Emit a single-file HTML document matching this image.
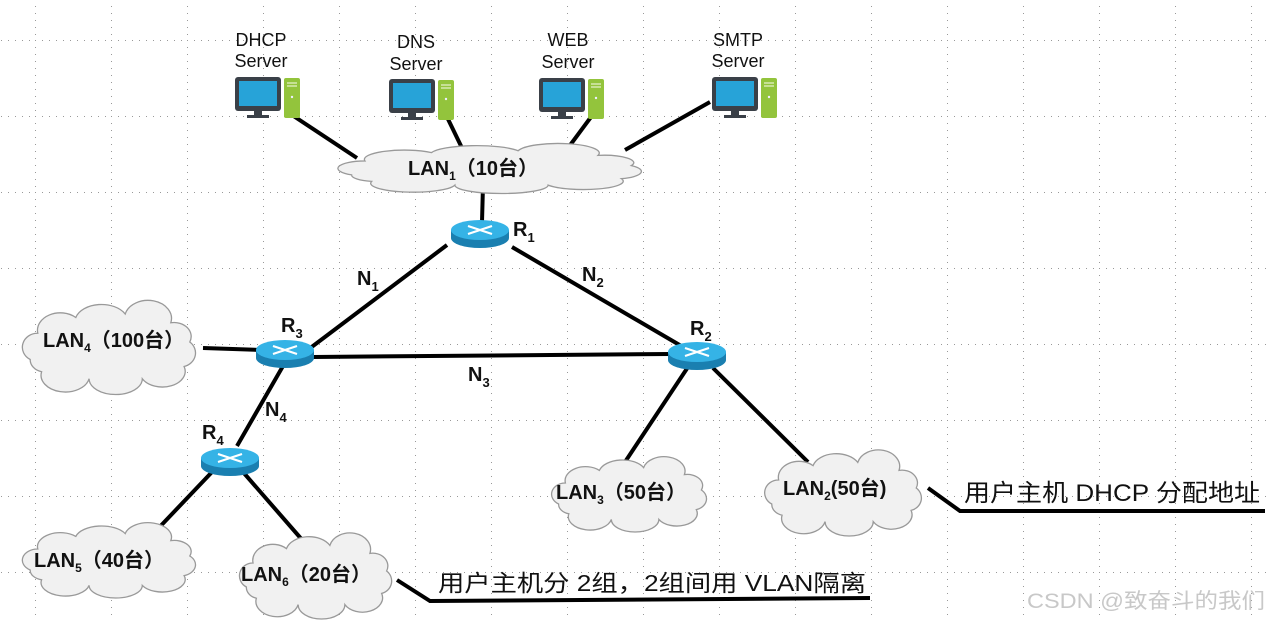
<!DOCTYPE html>
<html><head><meta charset="utf-8"><style>
html,body{margin:0;padding:0;background:#fff;}
svg{display:block;}
text{font-family:"Liberation Sans","Noto Sans CJK SC",sans-serif;}
.b{font-weight:bold;font-size:20px;fill:#111;}
.s{font-size:18px;fill:#111;}
.l{stroke:#000;stroke-width:4;fill:none;}
</style></head><body>
<svg width="1269" height="620" viewBox="0 0 1269 620" xmlns="http://www.w3.org/2000/svg">
<defs>
<pattern id="g" x="35" y="40" width="76" height="76" patternUnits="userSpaceOnUse">
<line x1="0" y1="0.5" x2="76" y2="0.5" stroke="#999" stroke-width="1" stroke-dasharray="1,6"/>
<line x1="0.5" y1="0" x2="0.5" y2="76" stroke="#999" stroke-width="1" stroke-dasharray="1,6"/>
</pattern>
<path id="cl" d="M8,30 a8,8 0 0 1 4,-15 a12,10 0 0 1 20,-9 a14,10 0 0 1 26,-2 a12,10 0 0 1 24,5 a9,8 0 0 1 10,11 a8,8 0 0 1 -3,14 a12,9 0 0 1 -22,7 a14,9 0 0 1 -28,0 a12,9 0 0 1 -25,-4 a8,7 0 0 1 -6,-7 z" fill="#f1f1f1" stroke="#999" stroke-width="1.3" vector-effect="non-scaling-stroke"/>
<g id="rt">
<ellipse cx="0" cy="6" rx="29" ry="10" fill="#1a7fb0"/>
<rect x="-29" y="-2" width="58" height="8" fill="#1a7fb0"/>
<ellipse cx="0" cy="-2" rx="29" ry="10" fill="#35b3e6"/>
<path d="M-12,-6 L12,2 M-12,2 L12,-6" stroke="#fff" stroke-width="2.2"/>
</g>
<g id="sv">
<rect x="0" y="0" width="46" height="34" rx="3" fill="#3a4048"/>
<rect x="4" y="4" width="38" height="25" fill="#27a3d8"/>
<rect x="19" y="34" width="8" height="5" fill="#3a4048"/>
<rect x="12" y="38" width="22" height="3" fill="#3a4048"/>
<rect x="49" y="1" width="16" height="40" rx="2" fill="#93c43c"/>
<line x1="52" y1="6" x2="62" y2="6" stroke="#d7e9b2" stroke-width="1.5"/>
<line x1="52" y1="9" x2="62" y2="9" stroke="#d7e9b2" stroke-width="1.5"/>
<circle cx="57" cy="20" r="1.2" fill="#eef"/>
</g>
</defs>
<rect width="1269" height="620" fill="#fff"/>
<rect width="1269" height="620" fill="url(#g)"/>

<path class="l" d="M292,115 L357,158 M447,117 L462,148 M591,117 L568,148 M710,102 L625,150 M483,185 L482,222"/>
<path class="l" d="M447,245 L305,352 M512,247 L683,347 M313,357 L670,354 M203,348 L262,350 M283,366 L237,446 M212,472 L152,535 M243,472 L304,542 M688,367 L623,465 M713,368 L808,462"/>
<path class="l" stroke-width="3" d="M928,488 L960,511 L1265,511 M397,580 L430,601 L870,598"/>

<use href="#sv" x="235" y="77"/>
<use href="#sv" x="389" y="79"/>
<use href="#sv" x="539" y="78"/>
<use href="#sv" x="712" y="77"/>
<text class="s" x="261" y="46" text-anchor="middle">DHCP</text><text class="s" x="261" y="67" text-anchor="middle">Server</text>
<text class="s" x="416" y="48" text-anchor="middle">DNS</text><text class="s" x="416" y="70" text-anchor="middle">Server</text>
<text class="s" x="568" y="46" text-anchor="middle">WEB</text><text class="s" x="568" y="68" text-anchor="middle">Server</text>
<text class="s" x="738" y="46" text-anchor="middle">SMTP</text><text class="s" x="738" y="67" text-anchor="middle">Server</text>

<g transform="translate(325,147) scale(3.33,0.93)"><use href="#cl"/></g>
<g transform="translate(15,307) scale(1.9,1.75)"><use href="#cl"/></g>
<g transform="translate(15,528) scale(1.9,1.4)"><use href="#cl"/></g>
<g transform="translate(233,539) scale(1.67,1.6)"><use href="#cl"/></g>
<g transform="translate(545,462) scale(1.7,1.4)"><use href="#cl"/></g>
<g transform="translate(758,456) scale(1.72,1.6)"><use href="#cl"/></g>

<text class="b" x="408" y="175">LAN<tspan font-size="12" dy="5">1</tspan><tspan dy="-5">（10台）</tspan></text>
<text class="b" x="43" y="347">LAN<tspan font-size="12" dy="5">4</tspan><tspan dy="-5">（100台）</tspan></text>
<text class="b" x="34" y="567">LAN<tspan font-size="12" dy="5">5</tspan><tspan dy="-5">（40台）</tspan></text>
<text class="b" x="241" y="581">LAN<tspan font-size="12" dy="5">6</tspan><tspan dy="-5">（20台）</tspan></text>
<text class="b" x="556" y="499">LAN<tspan font-size="12" dy="5">3</tspan><tspan dy="-5">（50台）</tspan></text>
<text class="b" x="783" y="495">LAN<tspan font-size="12" dy="5">2</tspan><tspan dy="-5">(50台)</tspan></text>

<use href="#rt" x="480" y="232"/>
<use href="#rt" x="285" y="352"/>
<use href="#rt" x="697" y="354"/>
<use href="#rt" x="230" y="460"/>
<text class="b" x="513" y="236">R<tspan font-size="13" dy="6">1</tspan></text>
<text class="b" x="690" y="335">R<tspan font-size="13" dy="6">2</tspan></text>
<text class="b" x="281" y="332">R<tspan font-size="13" dy="6">3</tspan></text>
<text class="b" x="202" y="439">R<tspan font-size="13" dy="6">4</tspan></text>
<text class="b" x="357" y="285">N<tspan font-size="13" dy="6">1</tspan></text>
<text class="b" x="582" y="281">N<tspan font-size="13" dy="6">2</tspan></text>
<text class="b" x="468" y="381">N<tspan font-size="13" dy="6">3</tspan></text>
<text class="b" x="265" y="416">N<tspan font-size="13" dy="6">4</tspan></text>

<text x="964" y="501" font-size="24" fill="#111" textLength="296" lengthAdjust="spacingAndGlyphs">用户主机 DHCP 分配地址</text>
<text x="438" y="591" font-size="23" fill="#111" textLength="428" lengthAdjust="spacingAndGlyphs">用户主机分 2组，2组间用 VLAN隔离</text>
<text x="1027" y="608" font-size="21" fill="#c8c8c8" textLength="238" lengthAdjust="spacingAndGlyphs">CSDN @致奋斗的我们</text>
</svg>
</body></html>
